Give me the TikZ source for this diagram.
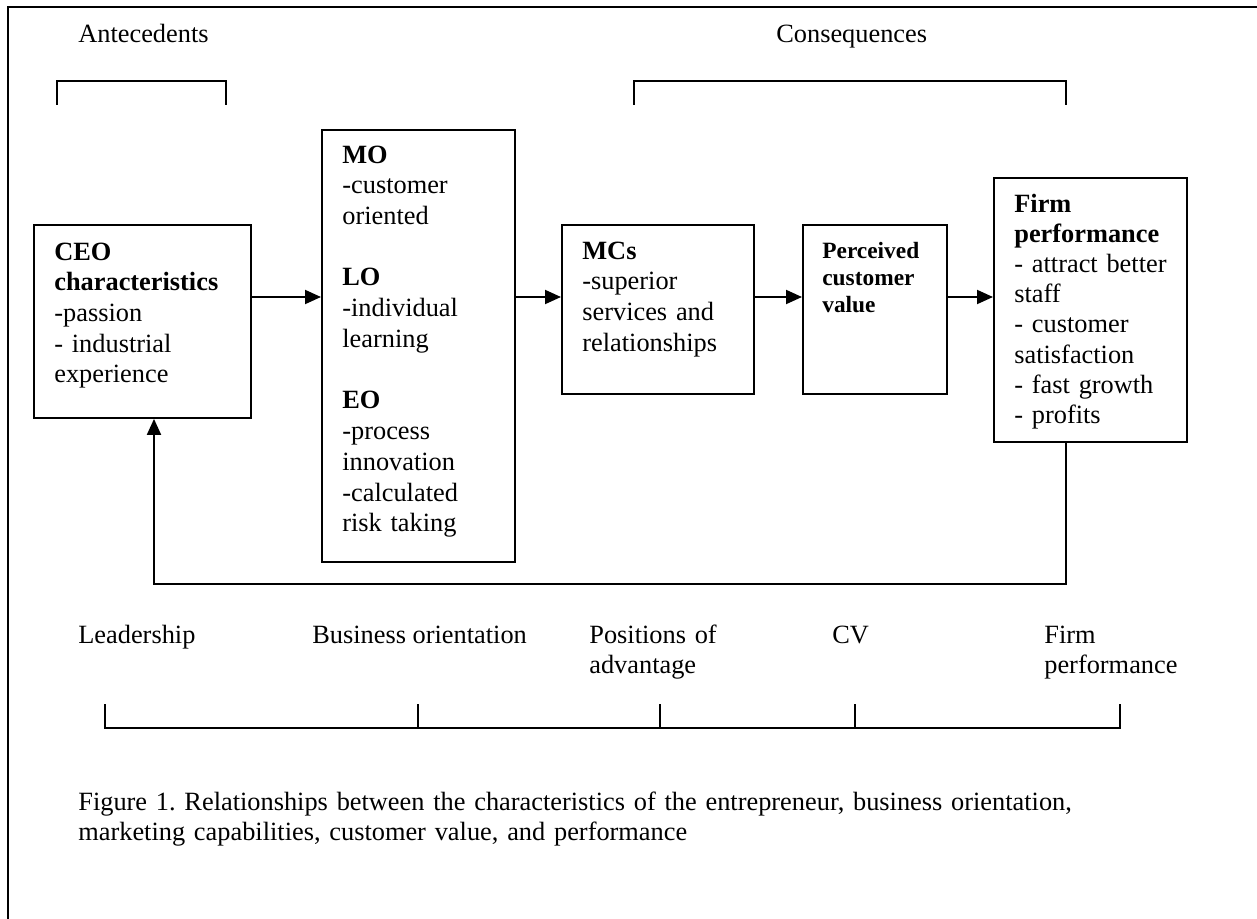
\documentclass[tikz,border=0pt]{standalone}
\usepackage{fontspec}
\setmainfont{Liberation Serif}
\usetikzlibrary{arrows.meta}
\frenchspacing
\newcommand\bodyfont{\fontsize{15}{17.5}\selectfont}
\newcommand\smallbodyfont{\fontsize{13.3}{15.4}\selectfont}
\tikzset{
  box/.style={draw, line width=1.1pt, inner sep=0pt, anchor=north west},
  txt/.style={inner sep=0pt, anchor=base west, font=\bodyfont, align=left},
  mtxt/.style={txt, text width=#1},
  arr/.style={line width=1.1pt, -{Triangle[length=0.32cm,width=0.28cm]}},
  brk/.style={line width=1.1pt},
}
\begin{document}
\begin{tikzpicture}[x=0.02cm, y=-0.02cm]
\useasboundingbox (0,0) rectangle (1257,919);
% frame (top and left edges visible)
\draw[brk] (8,919) -- (8,7) -- (1257,7);

% headings and brackets
\node[txt] (ante) at (78,43) {Antecedents};
\node[txt] (cons) at (776,43) {Consequences};
\draw[brk] (57,105) -- (57,81) -- (226,81) -- (226,105);
\draw[brk] (634,105) -- (634,81) -- (1066,81) -- (1066,105);

% boxes
\node[box, minimum width=4.34cm, minimum height=3.86cm] (ceo) at (33,224) {};
\node[box, minimum width=3.86cm, minimum height=8.64cm] (mo) at (321,129) {};
\node[box, minimum width=3.84cm, minimum height=3.38cm] (mcs) at (561,224) {};
\node[box, minimum width=2.88cm, minimum height=3.38cm] (pcv) at (802,224) {};
\node[box, minimum width=3.86cm, minimum height=5.28cm] (firm) at (993,177) {};

% box texts
\node[mtxt=4cm] (ceotxt) at (54,260) {\textbf{CEO}\\ \textbf{characteristics}\\ -passion\\ - industrial\\ experience};
\node[mtxt=3.4cm] (motxt) at (342,163) {\textbf{MO}\\ -customer\\ oriented\\[0.615cm] \textbf{LO}\\ -individual\\ learning\\[0.615cm] \textbf{EO}\\ -process\\ innovation\\ -calculated\\ risk taking};
\node[mtxt=3.4cm] (mcstxt) at (582,259) {\textbf{MCs}\\ -superior\\ services and\\ relationships};
\node[mtxt=2.4cm, font=\smallbodyfont] (pcvtxt) at (822,258) {\textbf{Perceived}\\ \textbf{customer}\\ \textbf{value}};
\node[mtxt=3.4cm, font={\fontsize{15}{17.2}\selectfont}] (firmtxt) at (1014,212) {\textbf{Firm}\\ \textbf{performance}\\ - attract better\\ staff\\ - customer\\ satisfaction\\ - fast growth\\ - profits};

% connectors
\coordinate (row) at (0,297);
\draw[arr] (ceo.east |- row) -- (mo.west |- row);
\draw[arr] (mo.east |- row) -- (mcs.west |- row);
\draw[arr] (mcs.east |- row) -- (pcv.west |- row);
\draw[arr] (pcv.east |- row) -- (firm.west |- row);
\coordinate (fbr) at (1066,584);
\coordinate (fbl) at (154,584);
\draw[arr] (firm.south -| fbr) -- (fbr) -- (fbl) -- (ceo.south -| fbl);

% bottom labels
\node[txt] (lead) at (78,643) {Leadership};
\node[txt] (bo) at (312,643) {Business orientation};
\node[mtxt=3cm] (poa) at (589,643) {Positions of\\ advantage};
\node[txt] (cv) at (832,643) {CV};
\node[mtxt=3cm] (fp) at (1044,643) {Firm\\ performance};

% bottom bracket
\draw[brk] (105,704) -- (105,728) -- (1120,728) -- (1120,704);
\draw[brk] (418,704) -- (418,728);
\draw[brk] (660,704) -- (660,728);
\draw[brk] (855,704) -- (855,728);

% caption
\node[mtxt=22cm, font={\fontsize{15}{17.2}\selectfont}] (cap) at (78,810) {Figure 1. Relationships between the characteristics of the entrepreneur, business orientation,\\ marketing capabilities, customer value, and performance};
\end{tikzpicture}
\end{document}
